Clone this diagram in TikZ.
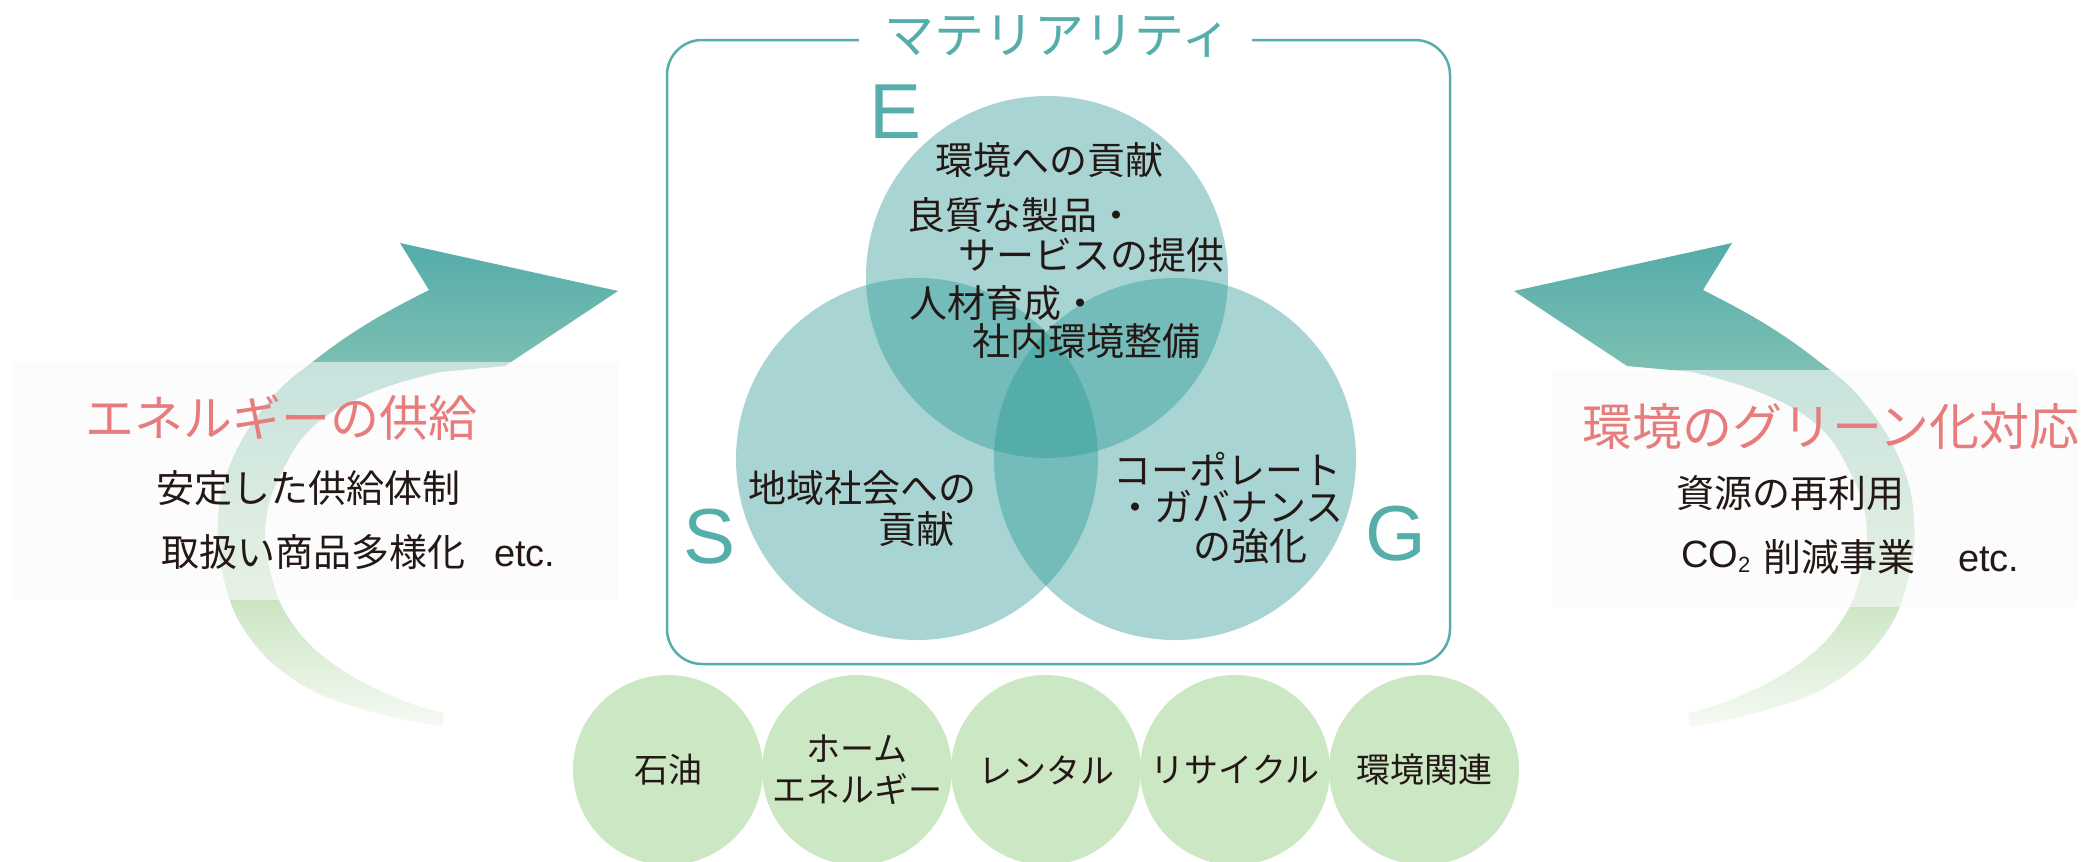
\documentclass[tikz,border=0pt]{standalone}
\usepackage{fontspec}
\setmainfont{Noto Sans CJK JP}
\newfontfamily\latinfont{Liberation Sans}
\definecolor{matteal}{RGB}{85,174,170}
\definecolor{esgbase}{RGB}{38,150,145}
\definecolor{titlepink}{RGB}{232,124,124}
\definecolor{bizgreen}{RGB}{204,231,195}
\definecolor{inkblack}{RGB}{35,24,21}
\definecolor{fadeA}{RGB}{246,250,244}
\definecolor{fadeB}{RGB}{203,230,195}
\definecolor{fadeC}{RGB}{122,190,178}
\definecolor{fadeD}{RGB}{84,172,170}
\pgfdeclareverticalshading{arrowfade}{100bp}{color(0bp)=(fadeA); color(25bp)=(fadeA); color(38bp)=(fadeB); color(63bp)=(fadeC); color(75bp)=(fadeD); color(100bp)=(fadeD)}
\newcommand\jpsize[1]{\fontsize{#1pt}{#1pt}\selectfont}
\newcommand\bendarrow{plot[smooth,tension=.7] coordinates {(442,727) (365,710) (299,683) (249,637) (224,580) (218,520) (232,460) (270,400) (315,360) (370,322) (429,290)}
  -- (400,243) -- (618,291) -- (505,366)
  -- plot[smooth,tension=.7] coordinates {(440,372) (373,392) (315,425) (282,472) (266,520) (270,570) (290,620) (332,663) (394,697) (444,713)} -- cycle}

\begin{document}
\begin{tikzpicture}[x=1pt,y=-1pt,
    every node/.style={inner sep=0pt, text=inkblack},
    esg/.style={circle, fill=esgbase, fill opacity=.4, minimum size=362pt},
    biz/.style={circle, fill=bizgreen, minimum size=190pt, align=center, font=\fontsize{34pt}{41pt}\selectfont},
    jp/.style={anchor=west, font=\jpsize{38}},
    big/.style={anchor=west, font=\jpsize{49}, text=titlepink},
    letter/.style={font=\latinfont\jpsize{78}, text=matteal}]
    \useasboundingbox (0,0) rectangle (2089,862);

    \shade[shading=arrowfade] \bendarrow;
    \begin{scope}[xshift=2132pt, xscale=-1]
        \shade[shading=arrowfade] \bendarrow;
    \end{scope}
    \fill[black!2, fill opacity=.6] (12,362) rectangle (618,600);
    \fill[black!2, fill opacity=.6] (1552,370) rectangle (2078,607);

    \draw[matteal, line width=2.5pt, rounded corners=35pt] (667,40) rectangle (1450,664);
    \fill[white] (859,10) rectangle (1252,68);
    \node[font=\jpsize{50}, text=matteal] (title) at (1058,36) {マテリアリティ};

    \node[esg] (envc) at (1047,277) {};
    \node[esg] (socc) at (917,459) {};
    \node[esg] (govc) at (1175,459) {};
    \node[letter] (lE) at (896,112) {E};
    \node[letter] (lS) at (710,537) {S};
    \node[letter] (lG) at (1396,534) {G};

    \node[jp] (env1) at (935,160) {環境への貢献};
    \node[jp] (env2) at (907,215) {良質な製品・};
    \node[jp] (env3) at (958,255) {サービスの提供};
    \node[jp] (env4) at (909,303) {人材育成・};
    \node[jp] (env5) at (972,341) {社内環境整備};
    \node[jp] (soc1) at (748,488) {地域社会への};
    \node[jp] (soc2) at (878,529) {貢献};
    \node[jp] (gov1) at (1113,469) {コーポレート};
    \node[jp] (gov2) at (1116,507) {・ガバナンス};
    \node[jp] (gov3) at (1193,546) {の強化};

    \node[big] (supply) at (85,418) {エネルギーの供給};
    \node[jp] (supply1) at (156,488) {安定した供給体制};
    \node[jp] (supply2) at (161,552) {取扱い商品多様化};
    \node[jp, font=\latinfont\jpsize{38}] (supplyetc) at (494,554) {etc.};
    \node[big, font=\jpsize{50}] (green) at (1582,426) {環境のグリーン化対応};
    \node[jp] (green1) at (1676,493) {資源の再利用};
    \node[jp, font=\latinfont\jpsize{38}] (co2) at (1681,557) {CO\raisebox{-.12em}{\jpsize{22}2}};
    \node[jp] (green2) at (1763,557) {削減事業};
    \node[jp, font=\latinfont\jpsize{38}] (greenetc) at (1958,559) {etc.};

    \foreach \cx/\nm/\txt in {668/oil/石油, 857/home/{ホーム\\エネルギー}, 1046/rent/レンタル, 1235/recy/リサイクル, 1424/envb/環境関連}
        \node[biz] (\nm) at (\cx,770) {\txt};
\end{tikzpicture}
\end{document}
